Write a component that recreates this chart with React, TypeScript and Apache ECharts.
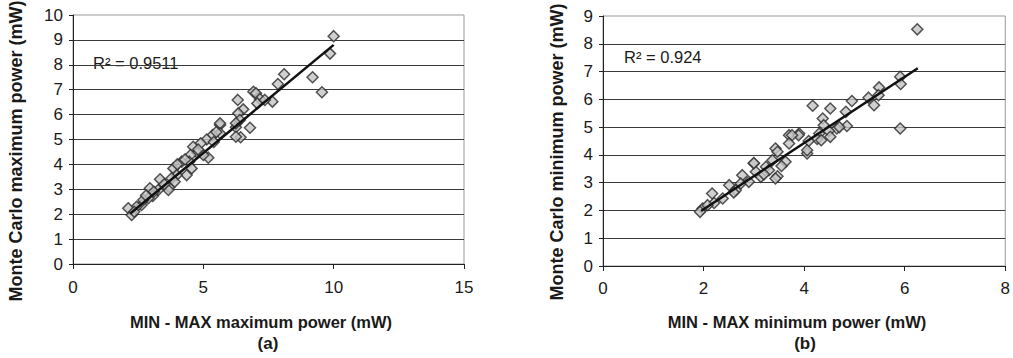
import React, { useEffect, useRef } from "react";
import * as echarts from "echarts";

// (a) MIN-MAX maximum power vs Monte Carlo maximum power (mW)
const maxMinMax = [10.0, 9.86, 9.19, 9.55, 8.1, 7.86, 7.65, 6.92, 7.02, 7.17, 7.07, 7.36, 6.32, 6.53, 6.34, 6.79, 6.43, 6.25, 6.4, 6.25, 6.25, 5.64, 5.64, 5.64, 5.36, 5.13, 4.9, 4.61, 4.77, 5.19, 5.0, 4.51, 4.46, 4.17, 4.55, 4.36, 3.85, 3.98, 3.78, 3.34, 3.69, 3.66, 3.27, 2.95, 3.06, 2.89, 2.63, 2.44, 2.12, 2.25, 2.7, 2.35, 4.0, 4.3, 3.5, 3.9, 5.4, 5.5, 4.8, 3.1, 2.8];
const maxMonteCarlo = [9.15, 8.45, 7.5, 6.9, 7.62, 7.23, 6.52, 6.92, 6.86, 6.63, 6.45, 6.59, 6.59, 6.21, 6.05, 5.47, 5.09, 5.49, 5.78, 5.65, 5.11, 5.58, 5.65, 5.25, 5.18, 5.0, 4.85, 4.71, 4.47, 4.27, 4.38, 4.38, 4.11, 4.11, 3.84, 3.57, 3.84, 3.57, 3.44, 3.4, 3.08, 2.97, 2.97, 3.04, 2.73, 2.64, 2.37, 2.3, 2.24, 1.97, 2.57, 2.1, 4.0, 4.2, 3.2, 3.3, 4.9, 5.3, 4.6, 2.9, 2.75];
const maxTrendX = [2.2, 10.0];
const maxTrendY = [2.03, 8.8];
const maxR2 = "R² = 0.9511";

// (b) MIN-MAX minimum power vs Monte Carlo minimum power (mW)
const minMinMax = [6.25, 5.91, 5.92, 5.91, 5.49, 5.48, 5.28, 5.39, 4.95, 4.83, 4.52, 4.17, 4.37, 4.39, 4.85, 4.65, 4.49, 4.3, 4.52, 4.26, 3.9, 4.09, 4.34, 3.7, 3.89, 4.06, 3.43, 3.0, 3.47, 3.76, 4.06, 3.7, 3.47, 3.63, 3.43, 3.37, 3.24, 3.04, 3.0, 2.77, 2.74, 2.51, 2.64, 2.38, 2.17, 2.21, 1.98, 1.93, 2.08, 2.9, 3.14, 3.3, 3.55, 3.2, 2.6, 4.7];
const minMonteCarlo = [8.52, 6.81, 6.55, 4.95, 6.43, 6.15, 6.06, 5.79, 5.94, 5.55, 5.67, 5.77, 5.31, 5.07, 5.04, 4.95, 4.86, 4.77, 4.65, 4.57, 4.77, 4.5, 4.53, 4.71, 4.71, 4.05, 4.23, 3.69, 3.23, 4.71, 4.17, 4.41, 4.11, 3.75, 3.15, 3.81, 3.57, 3.39, 3.71, 3.27, 2.97, 2.91, 2.73, 2.43, 2.61, 2.27, 2.07, 1.95, 2.19, 3.03, 3.21, 3.45, 3.6, 3.3, 2.65, 5.0];
const minTrendX = [1.95, 6.26];
const minTrendY = [1.98, 7.12];
const minR2 = "R² = 0.924";

const FONT = "'Liberation Sans', Arial, sans-serif";

function zip(xs: number[], ys: number[]) {
  return xs.map((x, i) => [x, ys[i]]);
}

export default function App() {
  const ref = useRef<HTMLDivElement>(null);
  useEffect(() => {
    document.body.style.margin = "0";
    const chart = echarts.init(ref.current!, null, { renderer: "svg" });
    const xAxisBase = (min: number, max: number, interval: number, gridIndex: number, margin: number) => ({
      type: "value",
      gridIndex,
      min,
      max,
      interval,
      axisLine: { show: true, onZero: false, lineStyle: { color: "#222", width: 1 } },
      axisTick: { show: true, inside: false, length: 5, lineStyle: { color: "#222" } },
      axisLabel: { color: "#1a1a1a", fontSize: 17, fontFamily: FONT, margin },
      splitLine: { show: false },
    });
    const yAxisBase = (min: number, max: number, gridIndex: number) => ({
      type: "value",
      gridIndex,
      min,
      max,
      interval: 1,
      axisLine: { show: true, onZero: false, lineStyle: { color: "#222", width: 1 } },
      axisTick: { show: true, inside: false, length: 4, lineStyle: { color: "#222" } },
      axisLabel: { color: "#1a1a1a", fontSize: 17, fontFamily: FONT, margin: 10 },
      splitLine: { show: true, showMaxLine: false, lineStyle: { color: "#3a3a3a", width: 1 } },
    });
    const scatterStyle = {
      color: "#c4c4c4",
      borderColor: "#2a2a2a",
      borderWidth: 1.5,
    };
    chart.setOption({
      animation: false,
      backgroundColor: "#fff",
      grid: [
        { left: 73, top: 15, width: 391, height: 249, show: true, borderColor: "#999", borderWidth: 1, backgroundColor: "#fff" },
        { left: 603, top: 16, width: 404, height: 250, show: true, borderColor: "#999", borderWidth: 1, backgroundColor: "#fff" },
      ],
      xAxis: [xAxisBase(0, 15, 5, 0, 15), xAxisBase(0, 8, 2, 1, 14)],
      yAxis: [yAxisBase(0, 10, 0), yAxisBase(0, 9, 1)],
      series: [
        {
          type: "scatter",
          xAxisIndex: 0,
          yAxisIndex: 0,
          symbol: "diamond",
          symbolSize: 11,
          itemStyle: scatterStyle,
          data: zip(maxMinMax, maxMonteCarlo),
          z: 2,
        },
        {
          type: "line",
          xAxisIndex: 0,
          yAxisIndex: 0,
          symbol: "none",
          lineStyle: { color: "#111", width: 2.5 },
          data: zip(maxTrendX, maxTrendY),
          z: 3,
        },
        {
          type: "scatter",
          xAxisIndex: 1,
          yAxisIndex: 1,
          symbol: "diamond",
          symbolSize: 11,
          itemStyle: scatterStyle,
          data: zip(minMinMax, minMonteCarlo),
          z: 2,
        },
        {
          type: "line",
          xAxisIndex: 1,
          yAxisIndex: 1,
          symbol: "none",
          lineStyle: { color: "#111", width: 2.5 },
          data: zip(minTrendX, minTrendY),
          z: 3,
        },
      ],
      graphic: [
        { type: "text", x: 93, y: 63, style: { text: maxR2, font: `16.5px ${FONT}`, fill: "#1a1a1a", verticalAlign: "middle", align: "left" } },
        { type: "text", x: 624, y: 57, style: { text: minR2, font: `16.5px ${FONT}`, fill: "#1a1a1a", verticalAlign: "middle", align: "left" } },
        { type: "text", x: 16, y: 151, rotation: Math.PI / 2, style: { text: "Monte Carlo maximum power (mW)", font: `bold 18px ${FONT}`, fill: "#1a1a1a", align: "center", verticalAlign: "middle" } },
        { type: "text", x: 557, y: 152, rotation: Math.PI / 2, style: { text: "Monte Carlo minimum power (mW)", font: `bold 18px ${FONT}`, fill: "#1a1a1a", align: "center", verticalAlign: "middle" } },
        { type: "text", x: 261, y: 322, style: { text: "MIN - MAX maximum power (mW)", font: `bold 16.5px ${FONT}`, fill: "#1a1a1a", align: "center", verticalAlign: "middle" } },
        { type: "text", x: 268, y: 343, style: { text: "(a)", font: `bold 17px ${FONT}`, fill: "#1a1a1a", align: "center", verticalAlign: "middle" } },
        { type: "text", x: 797, y: 322, style: { text: "MIN - MAX minimum power (mW)", font: `bold 16.5px ${FONT}`, fill: "#1a1a1a", align: "center", verticalAlign: "middle" } },
        { type: "text", x: 805, y: 343, style: { text: "(b)", font: `bold 17px ${FONT}`, fill: "#1a1a1a", align: "center", verticalAlign: "middle" } },
      ],
    });
    return () => chart.dispose();
  }, []);
  return <div ref={ref} style={{ position: "absolute", left: 0, top: 0, width: 1013, height: 358 }} />;
}
